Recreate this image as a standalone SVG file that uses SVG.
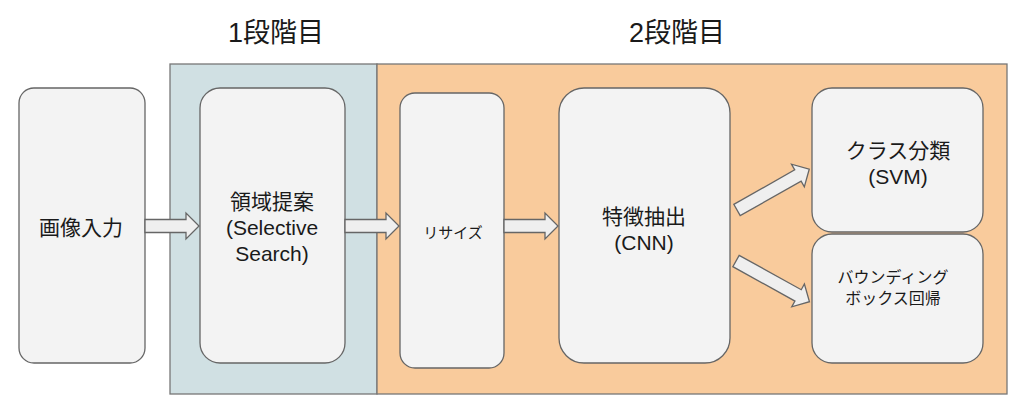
<svg xmlns="http://www.w3.org/2000/svg" width="1024" height="414" viewBox="0 0 1024 414">
<style>
text{font-family:"Liberation Sans","Noto Sans CJK JP",sans-serif;fill:#1a1a1a;text-anchor:middle;dominant-baseline:central}
.panel{stroke:#777;stroke-width:1.3}
.box{fill:#f3f3f3;stroke:#666;stroke-width:1.3}
.arr{fill:#efefef;stroke:#666;stroke-width:1.3;stroke-linejoin:miter}
.t21{font-size:21px}
.t27{font-size:27px}
</style>
<rect width="1024" height="414" fill="#ffffff"/>
<g id="titles">
<text class="t27" x="276" y="33">1段階目</text>
<text class="t27" x="677" y="33">2段階目</text>
</g>
<g id="stage1"><rect class="panel" x="170" y="64" width="207" height="330" fill="#d0e0e3"/></g>
<g id="stage2"><rect class="panel" x="377" y="64" width="630" height="330" fill="#f9cb9c"/></g>
<g id="input"><rect class="box" x="19" y="88" width="126" height="275" rx="15"/><text class="t21" x="81" y="227">画像入力</text></g>
<g id="proposal"><rect class="box" x="200" y="88" width="145" height="275" rx="20"/>
<text class="t21" x="272" y="201">領域提案</text><text class="t21" x="272" y="227">(Selective</text><text class="t21" x="272" y="253">Search)</text></g>
<g id="resize"><rect class="box" x="400" y="93" width="104" height="275" rx="15"/><text x="453" y="232" font-size="15">リサイズ</text></g>
<g id="cnn"><rect class="box" x="559" y="88" width="171" height="275" rx="25"/>
<text class="t21" x="644" y="216">特徴抽出</text><text class="t21" x="644" y="242">(CNN)</text></g>
<g id="svm"><rect class="box" x="812" y="88" width="171" height="144" rx="20"/>
<text class="t21" x="898" y="150">クラス分類</text><text class="t21" x="898" y="176">(SVM)</text></g>
<g id="bbox"><rect class="box" x="812" y="234" width="171" height="129" rx="20" fill="#eeeeee"/>
<text x="893" y="277" font-size="16">バウンディング</text><text x="893" y="298" font-size="16">ボックス回帰</text></g>
<g id="connectors">
<path class="arr" transform="translate(145,226)" d="M0,-6.5H41V-13L54,0L41,13V6.5H0Z"/>
<path class="arr" transform="translate(345,226)" d="M0,-6.5H41V-13L54,0L41,13V6.5H0Z"/>
<path class="arr" transform="translate(504,226)" d="M0,-6.5H41V-13L54,0L41,13V6.5H0Z"/>
<path class="arr" transform="translate(737,210) rotate(-29.5)" d="M0,-6.5H70V-13L83,0L70,13V6.5H0Z"/>
<path class="arr" transform="translate(736,261) rotate(29)" d="M0,-6.5H71V-13L84,0L71,13V6.5H0Z"/>
</g>
</svg>
